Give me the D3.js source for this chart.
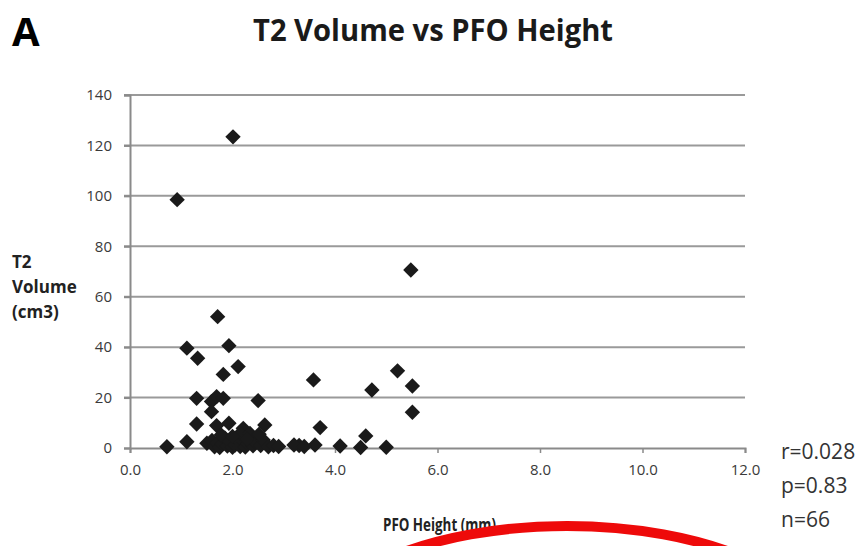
<!DOCTYPE html>
<html>
<head>
<meta charset="utf-8">
<script src="https://cdn.jsdelivr.net/npm/d3@7"></script>
<style>
  body { margin: 0; background: #fff; }
  text { font-family: "Liberation Sans Narrow", "Open Sans", sans-serif; }
</style>
</head>
<body>
<div id="chart"></div>
<script>
// PFO height (mm) and T2 volume (cm3)
let pfoHeight = [0.72, 0.92, 1.11, 1.11, 1.32, 1.30, 1.30, 1.50, 1.59, 1.69,
                 1.82, 1.59, 1.69, 1.93, 1.71, 1.93, 2.11, 1.82, 2.01, 2.50,
                 2.63, 3.58, 3.71, 5.22, 4.72, 5.51, 5.51, 5.48, 4.60, 4.50,
                 5.00, 4.10, 3.61, 3.30, 3.20, 3.40, 2.21,
                 1.60, 1.65, 1.70, 1.75, 1.80, 1.85, 1.90, 1.95, 2.00, 2.05,
                 2.10, 2.15, 2.20, 2.25, 2.30, 2.35, 2.40, 2.45, 2.55, 2.60,
                 2.70, 2.80, 2.90, 2.15, 2.34, 1.78, 2.00, 2.28, 2.52];
let t2Volume  = [0.5, 98.5, 2.5, 39.6, 35.6, 19.7, 9.5, 1.9, 18.4, 20.4,
                 19.7, 14.4, 8.9, 9.8, 52.1, 40.6, 32.3, 29.2, 123.4, 18.8,
                 9.1, 27.0, 8.1, 30.6, 23.0, 24.6, 14.2, 70.6, 4.8, 0.2,
                 0.3, 0.8, 1.2, 1.0, 1.2, 0.6, 7.8,
                 3.0, 0.5, 2.0, 0.2, 1.5, 4.0, 0.8, 2.5, 0.3, 1.2,
                 3.5, 0.6, 2.8, 0.4, 1.8, 4.2, 0.9, 2.2, 1.0, 3.2,
                 0.5, 1.0, 0.6, 5.8, 5.8, 5.2, 4.6, 3.6, 5.5];

let xTicks = [0, 2, 4, 6, 8, 10, 12];
let yTicks = [0, 20, 40, 60, 80, 100, 120, 140];
let statLines = ["r=0.028", "p=0.83", "n=66"];
let yLabelLines = ["T2", "Volume", "(cm3)"];

let width = 862, height = 546;

let svg = d3.select("#chart").append("svg")
  .attr("width", width)
  .attr("height", height);

let xScale = d3.scaleLinear().domain([0, 12]).range([130, 745]);
let yScale = d3.scaleLinear().domain([0, 140]).range([448, 95]);

// horizontal gridlines
svg.append("g").selectAll("line")
  .data(yTicks.filter(d => d > 0))
  .enter().append("line")
  .attr("x1", 124).attr("x2", xScale(12))
  .attr("y1", d => yScale(d)).attr("y2", d => yScale(d))
  .attr("stroke", "#9a9a9a").attr("stroke-width", 2);

// y axis
let yAxis = svg.append("g")
  .attr("transform", "translate(" + xScale(0) + ",0)")
  .call(d3.axisLeft(yScale).tickValues(yTicks).tickSize(6).tickPadding(12));
yAxis.select(".domain").attr("stroke", "#8a8a8a").attr("stroke-width", 2);
yAxis.selectAll(".tick line").attr("stroke", "#8a8a8a").attr("stroke-width", 2);
yAxis.selectAll(".tick text")
  .style("font-family", "'Liberation Sans Narrow', 'Open Sans', sans-serif")
  .style("font-size", "15px").attr("fill", "#3a3a3a");

// x axis
let xAxis = svg.append("g")
  .attr("transform", "translate(0," + yScale(0) + ")")
  .call(d3.axisBottom(xScale).tickValues(xTicks).tickFormat(d3.format(".1f"))
        .tickSize(5).tickPadding(11));
xAxis.select(".domain").attr("stroke", "#8a8a8a").attr("stroke-width", 2);
xAxis.selectAll(".tick line").attr("stroke", "#8a8a8a").attr("stroke-width", 1.5);
xAxis.selectAll(".tick text")
  .style("font-family", "'Liberation Sans Narrow', 'Open Sans', sans-serif")
  .style("font-size", "15px").attr("fill", "#3a3a3a");

// diamond markers
let diamond = d3.symbol().type(d3.symbolSquare).size(118);
svg.append("g").selectAll("path")
  .data(d3.range(pfoHeight.length))
  .enter().append("path")
  .attr("d", diamond)
  .attr("transform", i => "translate(" + xScale(pfoHeight[i]) + "," +
        yScale(t2Volume[i]) + ") rotate(45)")
  .attr("fill", "#1a1a1a");

// titles and labels
svg.append("text").attr("x", 12).attr("y", 46)
  .style("font-size", "40px").style("font-weight", "bold").text("A");

svg.append("text").attr("x", 253).attr("y", 41)
  .attr("textLength", 360).attr("lengthAdjust", "spacingAndGlyphs")
  .style("font-size", "31px").style("font-weight", "bold")
  .attr("fill", "#1a1a1a").text("T2 Volume vs PFO Height");

svg.append("g").selectAll("text")
  .data(yLabelLines).enter().append("text")
  .attr("x", 12).attr("y", (d, i) => 268 + i * 25)
  .style("font-size", "17px").style("font-weight", "bold")
  .attr("fill", "#222").text(d => d);

svg.append("text").attr("x", 383).attr("y", 531)
  .attr("textLength", 113).attr("lengthAdjust", "spacingAndGlyphs")
  .style("font-size", "17px").style("font-weight", "bold")
  .attr("fill", "#222").text("PFO Height (mm)");

svg.append("g").selectAll("text")
  .data(statLines).enter().append("text")
  .attr("x", 781).attr("y", (d, i) => 459 + i * 34)
  .style("font-size", "21px").attr("fill", "#333").text(d => d);

// red annotation ellipse (partly cut off at the bottom)
svg.append("ellipse")
  .attr("cx", 567).attr("cy", 646).attr("rx", 262).attr("ry", 120)
  .attr("fill", "none").attr("stroke", "#ee0a0a").attr("stroke-width", 10);
</script>
</body>
</html>
